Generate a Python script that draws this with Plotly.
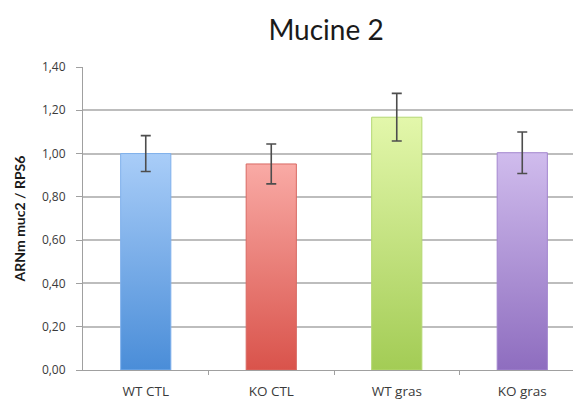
import plotly.graph_objects as go

categories = ["WT CTL", "KO CTL", "WT gras", "KO gras"]
values = [1.00, 0.952, 1.168, 1.004]
errors = [0.083, 0.092, 0.11, 0.096]
top_colors = ["#a9cdf8", "#f9aaa5", "#e3f7ab", "#d0bced"]
bottom_colors = ["#4a8dd8", "#d9534b", "#a3cc55", "#8e6dbf"]
border_colors = ["#7fb0ec", "#d86a63", "#b5d873", "#a386cf"]
y_ticks = [0.0, 0.2, 0.4, 0.6, 0.8, 1.0, 1.2, 1.4]

bar_half = 0.2
fig = go.Figure()
for i, (cat, v) in enumerate(zip(categories, values)):
    xs = [i - bar_half, i - bar_half, i + bar_half, i + bar_half, i - bar_half]
    ys = [0, v, v, 0, 0]
    fig.add_trace(go.Scatter(
        x=xs, y=ys, mode="lines", fill="toself",
        line=dict(color=border_colors[i], width=1),
        fillgradient=dict(type="vertical",
                          colorscale=[[0, bottom_colors[i]], [1, top_colors[i]]]),
        name=cat, showlegend=False, hoverinfo="skip"))

fig.add_trace(go.Scatter(
    x=list(range(len(categories))), y=values, mode="markers",
    marker=dict(size=1, opacity=0),
    error_y=dict(type="data", array=errors, visible=True,
                 color="#4d4d4d", thickness=1.6, width=5),
    showlegend=False, hoverinfo="skip"))

# the page body has an 8px default margin, so the figure is 8px smaller
fig.update_layout(
    width=573, height=391,
    margin=dict(l=75, r=0, t=59, b=29),
    paper_bgcolor="white", plot_bgcolor="white",
    separators=", ",
    title=dict(text="Mucine 2", x=0.555, xanchor="center", y=0.944, yanchor="middle",
               font=dict(family="Lato", size=28, color="#1a1a1a")),
    font=dict(family="Lato", color="#3a3a3a"),
)
fig.update_xaxes(
    range=[-0.5, 3.468], tickvals=list(range(len(categories))), ticktext=categories,
    ticks="", showgrid=False, zeroline=False,
    showline=True, linecolor="#a0a0a0", linewidth=1,
    tickfont=dict(family="Open Sans", size=13.5, color="#3a3a3a"), ticklabelstandoff=9,
    minor=dict(tickvals=[0.5, 1.5, 2.5], ticks="outside", ticklen=4,
               tickcolor="#a0a0a0", showgrid=False),
)
fig.update_yaxes(
    range=[0, 1.4], tickvals=y_ticks, tickformat=".2f",
    ticks="outside", ticklen=6, tickcolor="#a0a0a0",
    showgrid=True, gridcolor="#bdbdbd", gridwidth=1.5,
    zeroline=False, showline=True, linecolor="#a0a0a0", linewidth=1,
    tickfont=dict(family="Open Sans", size=12, color="#3a3a3a"), ticklabelstandoff=8,
    title=dict(text="<b>ARNm muc2 / RPS6</b>", font=dict(size=14, color="#1a1a1a"), standoff=12),
)

fig.write_html("out.html")
